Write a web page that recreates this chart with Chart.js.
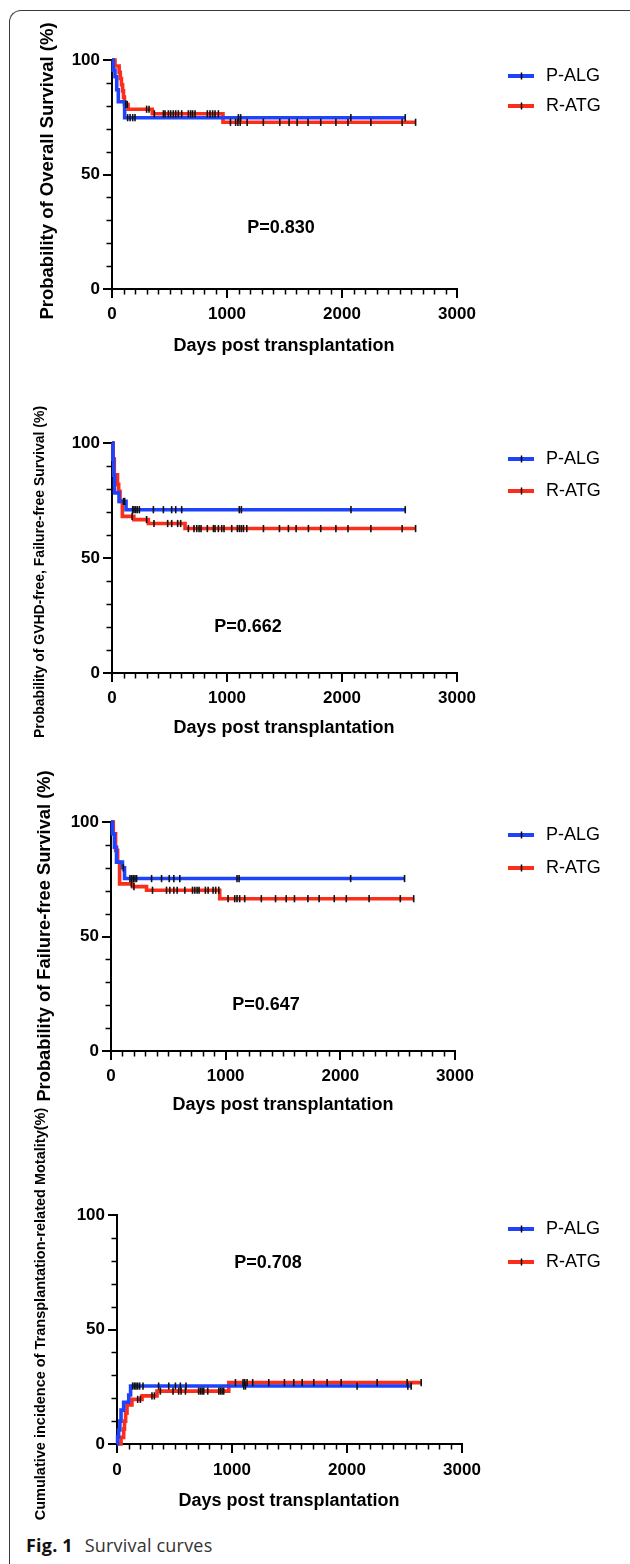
<!DOCTYPE html>
<html><head><meta charset="utf-8">
<script src="https://cdn.jsdelivr.net/npm/chart.js@4.4.1/dist/chart.umd.min.js"></script>
<style>
html,body{margin:0;padding:0;background:#fff;}
body{width:630px;height:1564px;position:relative;overflow:hidden;}
.frame{position:absolute;left:9px;top:10px;width:640px;height:1600px;border-top:1px solid #3a3a3a;border-left:1px solid #3a3a3a;border-top-left-radius:12px;box-sizing:border-box;}
canvas{position:absolute;left:0;}
.cap{position:absolute;left:26px;top:1533px;font-family:'Open Sans','Noto Sans',sans-serif;font-size:18px;color:#333;white-space:nowrap;letter-spacing:0.2px;}
.cap b{color:#111;margin-right:7px;}
</style></head><body>
<div class="frame"></div>
<canvas id="c1"></canvas>
<canvas id="c2"></canvas>
<canvas id="c3"></canvas>
<canvas id="c4"></canvas>
<div class="cap"><b>Fig. 1</b> Survival curves</div>
<script>
// ---------- labels ----------
const groups = ['P-ALG', 'R-ATG'];
const xTicks = [0, 1000, 2000, 3000];
const yTicks = [0, 50, 100];
const xTitle = 'Days post transplantation';
const yTitles = [
  'Probability of Overall Survival (%)',
  'Probability of GVHD-free, Failure-free Survival (%)',
  'Probability of Failure-free Survival (%)',
  'Cumulative incidence of Transplantation-related Motality(%)'
];
const pValues = ['P=0.830', 'P=0.662', 'P=0.647', 'P=0.708'];

// ---------- Panel 1: overall survival ----------
const osPALGDays = [0, 11, 26, 41, 55, 110, 2550];
const osPALGPct  = [100, 95.6, 92.7, 87.0, 81.8, 74.8, 74.8];
const osRATGDays = [0, 26, 62, 72, 82, 92, 100, 108, 140, 350, 965, 2640];
const osRATGPct  = [100, 97.4, 94.6, 91.9, 89.2, 86.5, 83.8, 80.6, 78.5, 76.5, 72.8, 72.8];
const osPALGCens = [136, 157, 180, 200, 1099, 1119, 2077, 2550];
const osRATGCens = [120, 133, 301, 322, 368, 447, 461, 490, 510, 533, 554, 577, 606, 664, 684, 701, 722, 829, 852, 875, 896, 925, 1030, 1075, 1095, 1115, 1175, 1316, 1459, 1540, 1610, 1705, 1815, 1947, 2052, 2251, 2523, 2640];

// ---------- Panel 2: GVHD-free, failure-free survival ----------
const grfsPALGDays = [0, 8, 14, 22, 61, 122, 2550];
const grfsPALGPct  = [100, 93, 86, 78.3, 74.6, 71.0, 71.0];
const grfsRATGDays = [0, 10, 20, 48, 58, 70, 90, 190, 316, 635, 2640];
const grfsRATGPct  = [100, 93, 86.2, 82, 79, 74.6, 68.1, 66.7, 65, 62.8, 62.8];
const grfsPALGCens = [100, 110, 180, 191, 206, 220, 238, 360, 447, 519, 554, 606, 1107, 1125, 2078, 2550];
const grfsRATGCens = [175, 301, 365, 484, 519, 571, 597, 664, 713, 737, 757, 774, 829, 882, 896, 925, 954, 974, 1041, 1090, 1108, 1125, 1143, 1172, 1317, 1456, 1534, 1601, 1708, 1815, 1947, 2052, 2251, 2523, 2640];

// ---------- Panel 3: failure-free survival ----------
const ffsPALGDays = [0, 12, 30, 48, 100, 118, 2560];
const ffsPALGPct  = [100, 94.9, 89, 82.5, 80, 75.3, 75.3];
const ffsRATGDays = [0, 20, 40, 58, 75, 188, 310, 948, 2640];
const ffsRATGPct  = [100, 94.9, 87.6, 82.5, 73, 71.8, 70.2, 66.5, 66.5];
const ffsPALGCens = [107, 165, 180, 194, 209, 223, 354, 441, 508, 548, 600, 1099, 1117, 2090, 2560];
const ffsRATGCens = [178, 200, 362, 484, 513, 548, 577, 644, 711, 731, 751, 768, 823, 847, 890, 913, 940, 1021, 1079, 1099, 1122, 1166, 1311, 1435, 1528, 1600, 1717, 1815, 1947, 2052, 2251, 2523, 2640];

// ---------- Panel 4: transplantation-related mortality ----------
const trmPALGDays = [0, 5, 14, 25, 35, 58, 102, 118, 2558];
const trmPALGPct  = [0, 3, 6.1, 10, 14.8, 18.2, 21.4, 25.3, 25.3];
const trmRATGDays = [0, 35, 58, 65, 75, 87, 130, 218, 348, 972, 2645];
const trmRATGPct  = [0, 2.9, 6.5, 10, 13.5, 17, 19.5, 21, 23.1, 26.8, 26.8];
const trmPALGCens = [136, 151, 165, 180, 197, 226, 362, 450, 508, 551, 600, 1102, 1117, 2088, 2529, 2558];
const trmRATGCens = [180, 203, 304, 325, 377, 487, 536, 557, 595, 710, 725, 740, 754, 789, 885, 899, 914, 928, 1030, 1096, 1111, 1131, 1180, 1320, 1456, 1537, 1610, 1711, 1827, 1949, 2262, 2523, 2645];

// ---------- styles / layout ----------
const COLORS = ['#1f43fb', '#fb2e1c'];
const FONT = '"Liberation Sans", Arial, Helvetica, sans-serif';
const W = 630;

const layout = [
  { id:'c1', top:0,    h:380, area:{l:112, r:457, t:60,   b:289},  yFont:18.5, yT:[48,171],  xT:[284,346],  pT:[281,228],  leg:[76,106],   tickPad:6 },
  { id:'c2', top:380,  h:380, area:{l:112, r:457, t:443,  b:673},  yFont:14,   yT:[40,572],  xT:[284,728],  pT:[248,627],  leg:[459,491],  tickPad:6 },
  { id:'c3', top:760,  h:360, area:{l:111, r:455, t:822,  b:1051}, yFont:18.3, yT:[45,936],  xT:[283,1105], pT:[266,1005], leg:[835,868],  tickPad:6 },
  { id:'c4', top:1080, h:450, area:{l:117, r:462, t:1215, b:1444}, yFont:14.5, yT:[41,1314], xT:[289,1501], pT:[268,1263], leg:[1229,1262], tickPad:7 }
];

const series = [
  [[osPALGDays, osPALGPct, osPALGCens], [osRATGDays, osRATGPct, osRATGCens]],
  [[grfsPALGDays, grfsPALGPct, grfsPALGCens], [grfsRATGDays, grfsRATGPct, grfsRATGCens]],
  [[ffsPALGDays, ffsPALGPct, ffsPALGCens], [ffsRATGDays, ffsRATGPct, ffsRATGCens]],
  [[trmPALGDays, trmPALGPct, trmPALGCens], [trmRATGDays, trmRATGPct, trmRATGCens]]
];

function levelAt(days, vals, t) {
  let v = vals[0];
  for (let i = 0; i < days.length; i++) if (days[i] <= t) v = vals[i];
  return v;
}

const decor = {
  id: 'decor',
  afterDraw(chart, args, o) {
    const ctx = chart.ctx, xs = chart.scales.x, ys = chart.scales.y, a = chart.chartArea;
    ctx.save();
    // minor ticks
    ctx.strokeStyle = '#000'; ctx.lineWidth = 1.5;
    ctx.beginPath();
    for (let v = 100; v < 3000; v += 100) {
      if (v % 1000 === 0) continue;
      const px = Math.round(xs.getPixelForValue(v)) + 0.5;
      ctx.moveTo(px, a.bottom); ctx.lineTo(px, a.bottom + 5.5);
    }
    for (let v = 10; v < 100; v += 10) {
      if (v % 50 === 0) continue;
      const py = Math.round(ys.getPixelForValue(v)) + 0.5;
      ctx.moveTo(a.left, py); ctx.lineTo(a.left - 5.5, py);
    }
    ctx.stroke();
    ctx.fillStyle = '#000';
    ctx.textAlign = 'center'; ctx.textBaseline = 'middle';
    // y title
    ctx.font = 'bold ' + o.yFont + 'px ' + FONT;
    ctx.save(); ctx.translate(o.yT[0], o.yT[1]); ctx.rotate(-Math.PI / 2);
    ctx.fillText(o.yTitle, 0, 0); ctx.restore();
    // x title
    ctx.font = 'bold 18px ' + FONT;
    ctx.fillText(xTitle, o.xT[0], o.xT[1]);
    // p value
    ctx.font = 'bold 18px ' + FONT;
    ctx.fillText(o.pText, o.pT[0], o.pT[1]);
    // legend
    for (let i = 0; i < 2; i++) {
      const y = o.leg[i];
      ctx.strokeStyle = COLORS[i]; ctx.lineWidth = 4;
      ctx.beginPath(); ctx.moveTo(508, y); ctx.lineTo(534, y); ctx.stroke();
      ctx.strokeStyle = '#000'; ctx.lineWidth = 1.5;
      ctx.beginPath(); ctx.moveTo(521.5, y - 3.5); ctx.lineTo(521.5, y + 3.5); ctx.stroke();
      ctx.font = '18px ' + FONT; ctx.textAlign = 'left';
      ctx.fillText(groups[i], 546, y + 0.5);
      ctx.textAlign = 'center';
    }
    ctx.restore();
  }
};

layout.forEach((L, k) => {
  const cv = document.getElementById(L.id);
  cv.width = W; cv.height = L.h; cv.style.top = L.top + 'px';
  cv.style.width = W + 'px'; cv.style.height = L.h + 'px';
  const loc = { l: L.area.l, r: L.area.r, t: L.area.t - L.top, b: L.area.b - L.top };
  const local = p => [p[0], p[1] - L.top];
  const datasets = [];
  series[k].forEach((s, i) => {
    const [days, vals, cens] = s;
    datasets.push({
      label: groups[i] + ' censored',
      data: cens.map(d => ({ x: d, y: levelAt(days, vals, d) })),
      showLine: false, pointStyle: 'line', rotation: 90, pointRadius: 3.6,
      pointBorderColor: '#111', pointBorderWidth: 1.6, pointBackgroundColor: '#111',
      order: 0, clip: false
    });
  });
  series[k].forEach((s, i) => {
    const [days, vals] = s;
    datasets.push({
      label: groups[i],
      data: days.map((d, j) => ({ x: d, y: vals[j] })),
      showLine: true, stepped: 'before', borderColor: COLORS[i], borderWidth: 3.6,
      pointRadius: 0, fill: false, order: i + 1, clip: false,
      borderJoinStyle: 'miter', borderCapStyle: 'butt'
    });
  });
  new Chart(cv, {
    type: 'scatter',
    data: { datasets },
    options: {
      responsive: false, animation: false, devicePixelRatio: 1, events: [],
      layout: { padding: { left: 0, top: loc.t, right: W - loc.r, bottom: 0 } },
      plugins: {
        legend: { display: false }, tooltip: { enabled: false },
        decor: { yTitle: yTitles[k], yFont: L.yFont, yT: local(L.yT), xT: local(L.xT), pT: local(L.pT), pText: pValues[k], leg: L.leg.map(v => v - L.top) }
      },
      scales: {
        x: {
          type: 'linear', min: 0, max: 3000,
          afterBuildTicks: sc => { sc.ticks = xTicks.map(v => ({ value: v })); },
          afterFit: sc => { sc.height = L.h - loc.b; },
          ticks: { color: '#000', font: { family: FONT, size: 17, weight: 'bold' }, padding: L.tickPad, maxRotation: 0, autoSkip: false, callback: v => String(v) },
          grid: { display: true, drawOnChartArea: false, drawTicks: true, tickLength: 9, color: '#000', lineWidth: 2 },
          border: { display: true, color: '#000', width: 2 }
        },
        y: {
          type: 'linear', min: 0, max: 100,
          afterBuildTicks: sc => { sc.ticks = yTicks.map(v => ({ value: v })); },
          afterFit: sc => { sc.width = loc.l; },
          ticks: { color: '#000', font: { family: FONT, size: 17, weight: 'bold' }, padding: 3, callback: v => String(v) },
          grid: { display: true, drawOnChartArea: false, drawTicks: true, tickLength: 9, color: '#000', lineWidth: 2 },
          border: { display: true, color: '#000', width: 2 }
        }
      }
    },
    plugins: [decor]
  });
});
</script>
</body></html>
